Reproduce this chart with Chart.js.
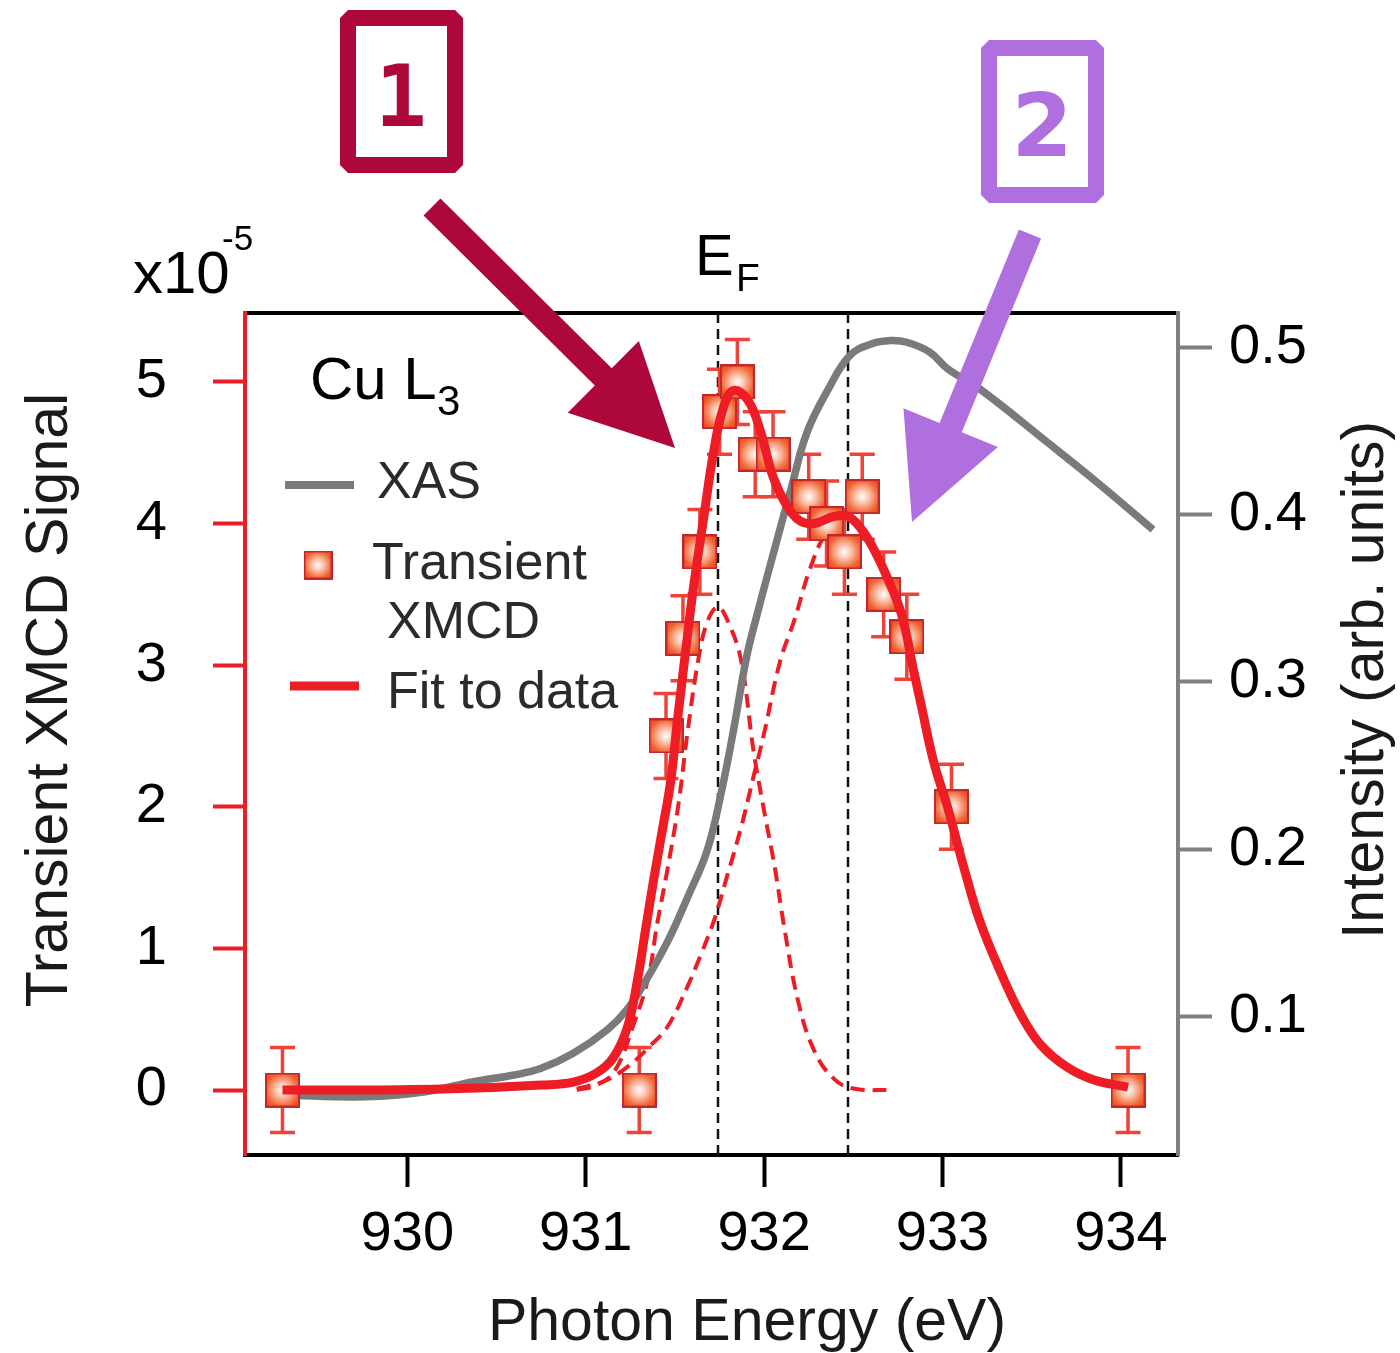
<!DOCTYPE html>
<html>
<head>
<meta charset="utf-8">
<title>Cu L3 transient XMCD</title>
<script src="https://cdn.jsdelivr.net/npm/chart.js@4.4.1/dist/chart.umd.min.js"></script>
<style>
  html, body { margin: 0; padding: 0; background: #fff; }
  canvas { display: block; }
</style>
</head>
<body>
<canvas id="xmcdChart" width="1400" height="1353"></canvas>
<script>
// transient XMCD data points (signal in units of 1e-5)
const xmcdEnergy = [929.3, 931.3, 931.45, 931.545, 931.64, 931.75, 931.85, 931.95, 932.05, 932.25, 932.35, 932.45, 932.55, 932.67, 932.8, 933.05, 934.04];
const xmcdSignal = [0, 0, 2.5, 3.19, 3.8, 4.79, 5.0, 4.49, 4.49, 4.19, 4.0, 3.8, 4.19, 3.5, 3.2, 2.0, 0];
const xmcdError = [0.3, 0.3, 0.3, 0.3, 0.3, 0.3, 0.3, 0.3, 0.3, 0.3, 0.3, 0.3, 0.3, 0.3, 0.3, 0.3, 0.3];

// two-peak fit
const fitEnergy = [929.3, 929.8, 930.3, 930.75, 930.93, 931.06, 931.155, 931.234, 931.29, 931.335, 931.38, 931.43, 931.475, 931.514, 931.559, 931.604, 931.66, 931.716, 931.772, 931.828, 931.91, 931.98, 932.05, 932.13, 932.2, 932.28, 932.39, 932.47, 932.54, 932.61, 932.69, 932.77, 932.84, 932.88, 932.95, 933.03, 933.12, 933.21, 933.33, 933.44, 933.55, 933.7, 933.85, 934.04];
const fitSignal = [0, 0, 0.01, 0.035, 0.056, 0.12, 0.23, 0.445, 0.777, 1.13, 1.48, 1.84, 2.17, 2.61, 3.09, 3.55, 4.03, 4.5, 4.82, 4.94, 4.87, 4.65, 4.33, 4.12, 4.02, 4.0, 4.05, 4.05, 3.97, 3.83, 3.62, 3.36, 2.95, 2.72, 2.32, 1.99, 1.57, 1.19, 0.82, 0.53, 0.32, 0.16, 0.07, 0.02];

// fit components
const peak1Energy = [930.95, 931.05, 931.16, 931.27, 931.35, 931.4, 931.46, 931.52, 931.57, 931.63, 931.68, 931.74, 931.8, 931.87, 931.94, 932.0, 932.06, 932.11, 932.19, 932.28, 932.39, 932.5, 932.71];
const peak1Signal = [0, 0.03, 0.13, 0.47, 0.79, 1.17, 1.57, 2.02, 2.52, 3.03, 3.3, 3.41, 3.3, 3.04, 2.4, 1.97, 1.57, 1.17, 0.63, 0.28, 0.08, 0.01, 0];
const peak2Energy = [930.95, 931.1, 931.23, 931.36, 931.46, 931.57, 931.64, 931.72, 931.79, 931.87, 931.94, 932.0, 932.09, 932.17, 932.26, 932.35, 932.45];
const peak2Signal = [0.01, 0.06, 0.16, 0.31, 0.45, 0.73, 0.94, 1.2, 1.5, 1.85, 2.21, 2.52, 3.03, 3.32, 3.69, 3.93, 4.0];

// static XAS (right axis)
const xasEnergy = [929.3, 929.77, 930.1, 930.37, 930.6, 930.75, 930.93, 931.12, 931.23, 931.34, 931.46, 931.57, 931.68, 931.76, 931.83, 931.9, 931.96, 932.05, 932.15, 932.24, 932.36, 932.48, 932.6, 932.71, 932.8, 932.93, 933.03, 933.21, 933.59, 933.87, 934.18];
const xasIntensity = [0.053, 0.052, 0.055, 0.061, 0.065, 0.069, 0.078, 0.092, 0.104, 0.122, 0.145, 0.171, 0.199, 0.234, 0.272, 0.314, 0.34, 0.376, 0.415, 0.449, 0.475, 0.495, 0.502, 0.504, 0.503, 0.497, 0.487, 0.475, 0.443, 0.419, 0.391];

const energyTicks = [930, 931, 932, 933, 934];
const signalTicks = [0, 1, 2, 3, 4, 5];
const intensityTicks = [0.1, 0.2, 0.3, 0.4, 0.5];
const fermiLevels = [931.74, 932.47];

const FONT = "'Liberation Sans', Arial, sans-serif";
const RED = "#ee1c24";
const GRAY = "#7a7a7a";
const CRIMSON = "#ae0739";
const PURPLE = "#b06fde";

const toPoints = (xs, ys) => xs.map((x, i) => ({ x: x, y: ys[i] }));

// square marker with a white glow in the middle
function makeMarker(size) {
  const c = document.createElement("canvas");
  c.width = size;
  c.height = size;
  const g = c.getContext("2d");
  const h = size / 2;
  const grad = g.createRadialGradient(h, h, 0, h, h, h * 1.35);
  grad.addColorStop(0, "#ffffff");
  grad.addColorStop(0.3, "#fbc2aa");
  grad.addColorStop(0.7, "#f2622f");
  grad.addColorStop(1, "#e64426");
  g.fillStyle = grad;
  g.fillRect(0, 0, size, size);
  g.strokeStyle = "#c1272d";
  g.lineWidth = 2;
  g.strokeRect(1, 1, size - 2, size - 2);
  return c;
}
const marker = makeMarker(35);
const legendMarker = makeMarker(29);

function setTicks(values) {
  return (scale) => {
    scale.ticks = values.map((v) => ({ value: v }));
  };
}

function drawArrow(ctx, from, to, shaftW, headW, headL, color) {
  const dx = to[0] - from[0];
  const dy = to[1] - from[1];
  const len = Math.hypot(dx, dy);
  const ux = dx / len, uy = dy / len;
  const nx = -uy, ny = ux;
  const bx = to[0] - ux * headL, by = to[1] - uy * headL;
  ctx.beginPath();
  ctx.moveTo(from[0] + nx * shaftW / 2, from[1] + ny * shaftW / 2);
  ctx.lineTo(bx + nx * shaftW / 2, by + ny * shaftW / 2);
  ctx.lineTo(bx + nx * headW / 2, by + ny * headW / 2);
  ctx.lineTo(to[0], to[1]);
  ctx.lineTo(bx - nx * headW / 2, by - ny * headW / 2);
  ctx.lineTo(bx - nx * shaftW / 2, by - ny * shaftW / 2);
  ctx.lineTo(from[0] - nx * shaftW / 2, from[1] - ny * shaftW / 2);
  ctx.closePath();
  ctx.fillStyle = color;
  ctx.fill();
}

function numberBox(ctx, x, y, w, h, color, label, font, tx, ty) {
  ctx.save();
  ctx.strokeStyle = color;
  ctx.lineWidth = 16;
  ctx.lineJoin = "bevel";
  ctx.strokeRect(x, y, w, h);
  ctx.fillStyle = color;
  ctx.font = font;
  ctx.textAlign = "center";
  ctx.textBaseline = "alphabetic";
  ctx.fillText(label, tx, ty);
  ctx.restore();
}

const overlay = {
  id: "overlay",
  beforeDatasetsDraw(chart) {
    const { ctx, chartArea } = chart;
    const xs = chart.scales.x;
    const ys = chart.scales.y;
    ctx.save();

    // Fermi level guides
    ctx.strokeStyle = "#111";
    ctx.lineWidth = 2.5;
    ctx.setLineDash([10, 6]);
    fermiLevels.forEach((e) => {
      const px = Math.round(xs.getPixelForValue(e));
      ctx.beginPath();
      ctx.moveTo(px, chartArea.top);
      ctx.lineTo(px, chartArea.bottom);
      ctx.stroke();
    });
    ctx.setLineDash([]);

    // error bars
    ctx.strokeStyle = "#ef4238";
    ctx.lineWidth = 3.5;
    xmcdEnergy.forEach((e, i) => {
      const px = xs.getPixelForValue(e);
      const top = ys.getPixelForValue(xmcdSignal[i] + xmcdError[i]);
      const bot = ys.getPixelForValue(xmcdSignal[i] - xmcdError[i]);
      ctx.beginPath();
      ctx.moveTo(px, top);
      ctx.lineTo(px, bot);
      ctx.moveTo(px - 12.5, top);
      ctx.lineTo(px + 12.5, top);
      ctx.moveTo(px - 12.5, bot);
      ctx.lineTo(px + 12.5, bot);
      ctx.stroke();
    });
    ctx.restore();
  },
  afterDraw(chart) {
    const ctx = chart.ctx;
    ctx.save();
    ctx.textBaseline = "alphabetic";
    ctx.textAlign = "left";

    // axis titles
    ctx.fillStyle = "#1a1a1a";
    ctx.font = "59px " + FONT;
    ctx.textAlign = "center";
    ctx.fillText("Photon Energy (eV)", 747, 1340);
    ctx.save();
    ctx.translate(67, 700);
    ctx.rotate(-Math.PI / 2);
    ctx.fillText("Transient XMCD Signal", 0, 0);
    ctx.restore();
    ctx.save();
    ctx.translate(1383, 680);
    ctx.rotate(-Math.PI / 2);
    ctx.fillText("Intensity (arb. units)", 0, 0);
    ctx.restore();

    // scale factor of the left axis
    ctx.textAlign = "left";
    ctx.fillStyle = "#000";
    ctx.font = "60px " + FONT;
    ctx.fillText("x10", 133, 293);
    ctx.font = "35px " + FONT;
    ctx.fillText("-5", 222, 250);

    // Fermi level label
    ctx.font = "58px " + FONT;
    ctx.fillText("E", 695, 275);
    ctx.font = "39px " + FONT;
    ctx.fillText("F", 736, 291);

    // edge label
    ctx.font = "60px " + FONT;
    ctx.fillText("Cu L", 310, 399);
    ctx.font = "42px " + FONT;
    ctx.fillText("3", 437, 415);

    // legend
    ctx.lineCap = "butt";
    ctx.strokeStyle = GRAY;
    ctx.lineWidth = 8;
    ctx.beginPath();
    ctx.moveTo(285, 485);
    ctx.lineTo(354, 485);
    ctx.stroke();
    ctx.drawImage(legendMarker, 318 - 14.5, 565 - 14.5);
    ctx.strokeStyle = RED;
    ctx.lineWidth = 9;
    ctx.beginPath();
    ctx.moveTo(290, 686);
    ctx.lineTo(359, 686);
    ctx.stroke();
    ctx.fillStyle = "#2b2b2b";
    ctx.font = "52px " + FONT;
    ctx.fillText("XAS", 377, 498);
    ctx.fillText("Transient", 372, 579);
    ctx.fillText("XMCD", 387, 638);
    ctx.fillText("Fit to data", 387, 708);

    // numbered call-outs
    numberBox(ctx, 348, 18, 107, 147, CRIMSON, "1", "bold 86px 'DejaVu Sans Mono', monospace", 401, 126);
    numberBox(ctx, 989, 48, 107, 147, PURPLE, "2", "bold 88px 'DejaVu Sans', sans-serif", 1042, 156);
    drawArrow(ctx, [432, 207], [675, 448], 24, 101, 101, CRIMSON);
    drawArrow(ctx, [1030, 234], [912, 522], 24, 102, 102, PURPLE);

    ctx.restore();
  },
};

const lineDefaults = {
  showLine: true,
  pointRadius: 0,
  tension: 0.4,
  yAxisID: "y",
};

new Chart(document.getElementById("xmcdChart"), {
  type: "scatter",
  data: {
    datasets: [
      {
        ...lineDefaults,
        label: "Fit to data",
        data: toPoints(fitEnergy, fitSignal),
        borderColor: RED,
        borderWidth: 9,
        order: 0,
      },
      {
        label: "Transient XMCD",
        data: toPoints(xmcdEnergy, xmcdSignal),
        showLine: false,
        pointStyle: marker,
        pointRadius: 17,
        yAxisID: "y",
        order: 1,
      },
      {
        ...lineDefaults,
        label: "XAS",
        data: toPoints(xasEnergy, xasIntensity),
        borderColor: GRAY,
        borderWidth: 7.5,
        yAxisID: "y2",
        order: 2,
      },
      {
        ...lineDefaults,
        label: "peak 1",
        data: toPoints(peak1Energy, peak1Signal),
        borderColor: RED,
        borderWidth: 4,
        borderDash: [14, 8],
        order: 3,
      },
      {
        ...lineDefaults,
        label: "peak 2",
        data: toPoints(peak2Energy, peak2Signal),
        borderColor: RED,
        borderWidth: 4,
        borderDash: [14, 8],
        order: 3,
      },
    ],
  },
  options: {
    responsive: false,
    animation: false,
    devicePixelRatio: 1,
    layout: { padding: { left: 0, top: 313, right: 0, bottom: 0 } },
    plugins: { legend: { display: false }, tooltip: { enabled: false } },
    scales: {
      x: {
        type: "linear",
        position: "bottom",
        min: 929.09,
        max: 934.32,
        afterBuildTicks: setTicks(energyTicks),
        afterFit: (s) => { s.height = 198; },
        grid: { display: true, drawOnChartArea: false, drawTicks: true, tickLength: 32, tickColor: "#000", tickWidth: 4, color: "#000" },
        border: { display: true, color: "#000", width: 4 },
        ticks: { color: "#000", font: { family: FONT, size: 56 }, padding: 14, maxRotation: 0, autoSkip: false },
      },
      xTop: {
        type: "linear",
        position: "top",
        min: 929.09,
        max: 934.32,
        afterBuildTicks: setTicks(energyTicks),
        afterFit: (s) => { s.height = 0; },
        grid: { display: true, drawOnChartArea: false, drawTicks: false },
        border: { display: true, color: "#000", width: 4 },
        ticks: { display: false },
      },
      y: {
        type: "linear",
        position: "left",
        min: -0.459,
        max: 5.487,
        afterBuildTicks: setTicks(signalTicks),
        afterFit: (s) => { s.width = 245; },
        grid: { display: true, drawOnChartArea: false, drawTicks: true, tickLength: 32, tickColor: RED, tickWidth: 4, color: RED },
        border: { display: true, color: RED, width: 4 },
        ticks: { color: "#000", font: { family: FONT, size: 56 }, padding: 46 },
      },
      y2: {
        type: "linear",
        position: "right",
        min: 0.0172,
        max: 0.5205,
        afterBuildTicks: setTicks(intensityTicks),
        afterFit: (s) => { s.width = 222; },
        grid: { display: true, drawOnChartArea: false, drawTicks: true, tickLength: 34, tickColor: "#808080", tickWidth: 4, color: "#808080" },
        border: { display: true, color: "#808080", width: 4 },
        ticks: { color: "#000", font: { family: FONT, size: 56 }, padding: 17, callback: (v) => v.toFixed(1) },
      },
    },
  },
  plugins: [overlay],
});
</script>
</body>
</html>
